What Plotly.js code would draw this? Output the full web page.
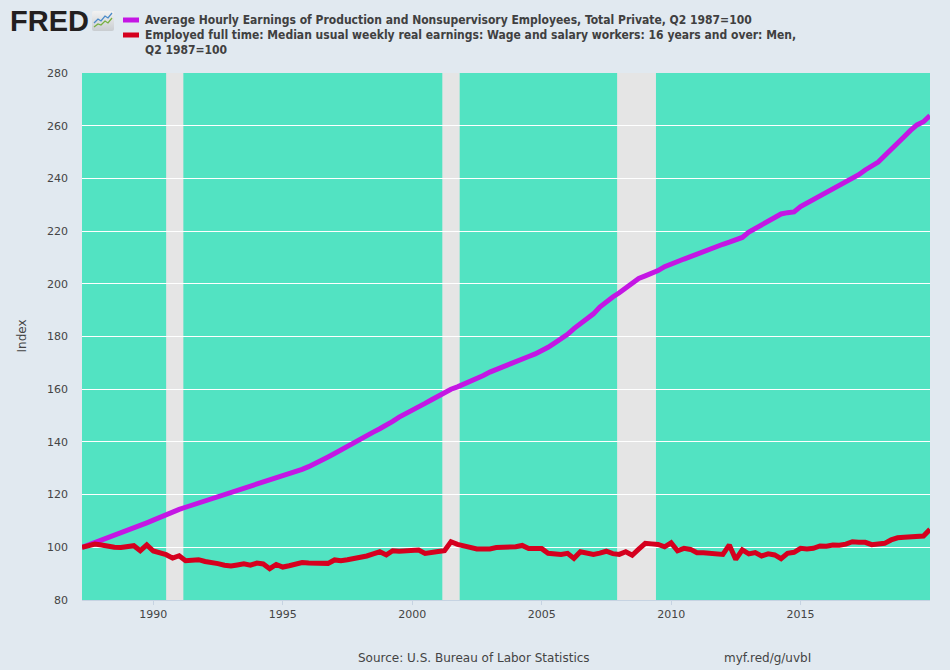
<!DOCTYPE html>
<html>
<head>
<meta charset="utf-8">
<script src="https://cdn.plot.ly/plotly-3.0.1.min.js"></script>
<style>
  html, body { margin: 0; padding: 0; background: #e1e9f0; }
  #chart { width: 950px; height: 670px; }
</style>
</head>
<body>
<div id="chart"></div>
<script>
// quarterly observations, Q2 1987 .. Q1 2020 (index, Q2 1987 = 100)
const firstYear = 1987;
const firstQuarter = 2;

const hourlyEarnings = [
  100.0, 100.9, 101.7,
  102.6, 103.5, 104.4, 105.2,
  106.3, 107.3, 108.3, 109.3,
  110.3, 111.4, 112.5, 113.6,
  114.4, 115.2, 116.0, 116.7,
  117.4, 118.1, 118.9, 119.6,
  120.6, 121.5, 122.2, 123.0,
  123.8, 124.6, 125.3, 126.1,
  127.0, 127.8, 128.8, 129.6,
  130.6, 131.7, 132.9, 134.3,
  135.6, 137.0, 138.5, 139.9,
  141.2, 142.5, 143.7, 145.0,
  146.3, 147.8, 149.4, 150.6,
  151.9, 153.3, 154.6, 156.0,
  157.4, 158.7, 160.0, 160.9,
  161.9, 163.0, 164.0, 165.2,
  166.5, 167.4, 168.6, 169.3,
  170.2, 171.3, 172.4, 173.4,
  174.6, 175.9, 177.5, 179.0,
  180.8, 183.0, 184.9, 186.8,
  188.6, 191.2, 193.3, 195.0,
  196.6, 198.4, 200.3, 202.0,
  203.0, 203.8, 205.0, 206.5,
  207.6, 208.5, 209.4, 210.3,
  211.3, 212.4, 213.4, 214.1,
  215.0, 215.8, 216.7, 217.6,
  219.6, 221.0, 222.5, 224.0,
  225.3, 226.5, 227.0, 227.3,
  229.3, 230.6, 232.0, 233.4,
  234.8, 236.0, 237.2, 238.4,
  239.8, 241.4, 243.2, 244.5,
  246.2, 248.6, 251.2, 253.6,
  255.8, 258.2, 260.3, 261.5,
  263.8
];

const weeklyEarningsMen = [
  100.0, 100.6, 101.2,
  100.9, 100.4, 100.0, 99.9,
  100.4, 100.6, 98.7, 100.9,
  98.6, 98.1, 97.2, 95.9,
  96.8, 94.9, 95.2, 95.3,
  94.6, 94.4, 93.8, 93.2,
  92.9, 93.3, 93.7, 93.2,
  94.0, 93.7, 91.9, 93.5,
  92.5, 93.0, 93.6, 94.2,
  94.0, 93.9, 93.9, 93.9,
  95.2, 94.9, 95.3, 95.7,
  96.4, 96.7, 97.5, 98.3,
  97.1, 98.7, 98.5, 98.6,
  99.1, 99.0, 97.7, 98.2,
  98.4, 98.7, 102.1, 101.1,
  100.5, 100.0, 99.4, 99.4,
  99.4, 99.9, 99.9, 100.1,
  100.2, 100.7, 99.5, 99.5,
  99.5, 97.7, 97.4, 97.3,
  97.7, 95.8, 98.3, 97.8,
  97.3, 97.8, 98.5, 97.6,
  97.3, 98.3, 97.0, 99.3,
  101.5, 101.3, 101.1, 100.2,
  101.7, 98.7, 99.6, 99.2,
  97.9, 97.9, 97.8, 97.7,
  97.3, 100.9, 95.4, 99.0,
  97.5, 98.0, 96.7, 97.5,
  97.1, 95.7, 97.7, 98.1,
  99.6, 99.4, 99.6, 100.5,
  100.4, 100.9, 100.8, 101.2,
  102.1, 101.9, 101.9, 101.0,
  101.3, 101.5, 102.8, 103.6,
  103.8, 104.0, 104.2, 104.3,
  106.8
];

const recessionStart = ['1990-07-01', '2001-03-01', '2007-12-01'];
const recessionEnd   = ['1991-03-01', '2001-11-01', '2009-06-01'];

const tickYears = ['1990', '1995', '2000', '2005', '2010', '2015'];

const seriesNames = [
  'Average Hourly Earnings of Production and Nonsupervisory Employees, Total Private, Q2 1987=100',
  'Employed full time: Median usual weekly real earnings: Wage and salary workers: 16 years and over: Men,',
  'Q2 1987=100'
];
const seriesColors = ['#c416e4', '#d5001e'];

// quarter start dates for the x axis
const dates = hourlyEarnings.map((_, i) => {
  const q = firstQuarter - 1 + i;
  const y = firstYear + Math.floor(q / 4);
  const m = (q % 4) * 3 + 1;
  return y + '-' + String(m).padStart(2, '0') + '-01';
});

// pixel -> paper helpers (plot area 82..930 x 73..600)
const L = 82, R = 930, T = 73, B = 600;
const px = x => (x - L) / (R - L);
const py = y => (B - y) / (B - T);

const textFont = 'DejaVu Sans, sans-serif';

const traces = [
  {
    x: dates, y: hourlyEarnings, type: 'scatter', mode: 'lines',
    line: { color: seriesColors[0], width: 5 }, hoverinfo: 'skip'
  },
  {
    x: dates, y: weeklyEarningsMen, type: 'scatter', mode: 'lines',
    line: { color: seriesColors[1], width: 5 }, hoverinfo: 'skip'
  }
];

const shapes = recessionStart.map((s, i) => ({
  type: 'rect', xref: 'x', yref: 'paper',
  x0: s, x1: recessionEnd[i], y0: 0, y1: 1,
  fillcolor: '#e5e5e5', line: { width: 0 }, layer: 'below'
}));

// legend swatches
shapes.push(
  { type: 'rect', xref: 'paper', yref: 'paper', x0: px(123), x1: px(139), y0: py(22.5), y1: py(17.5),
    fillcolor: seriesColors[0], line: { width: 0 } },
  { type: 'rect', xref: 'paper', yref: 'paper', x0: px(123), x1: px(139), y0: py(37.5), y1: py(32.5),
    fillcolor: seriesColors[1], line: { width: 0 } }
);

const legendFont = { family: 'DejaVu Sans Condensed, DejaVu Sans, sans-serif', size: 12, color: '#404040', weight: 'bold' };

const annotations = [
  { text: seriesNames[0], x: px(143), y: py(20) },
  { text: seriesNames[1], x: px(143), y: py(35) },
  { text: seriesNames[2], x: px(143), y: py(50) }
].map(a => Object.assign(a, {
  xref: 'paper', yref: 'paper', xanchor: 'left', yanchor: 'middle',
  showarrow: false, font: legendFont
}));

annotations.push(
  { text: 'FRED', x: px(8), y: py(21), xref: 'paper', yref: 'paper', xanchor: 'left', yanchor: 'middle',
    showarrow: false, font: { family: 'Liberation Sans, Arial, sans-serif', size: 29, color: '#231f20', weight: 'bold' } },
  { text: 'Index', x: px(21), y: 0.5, xref: 'paper', yref: 'paper', textangle: -90,
    xanchor: 'center', yanchor: 'middle',
    showarrow: false, font: { family: textFont, size: 12, color: '#444' } },
  { text: 'Source: U.S. Bureau of Labor Statistics', x: px(356), y: py(658), xref: 'paper', yref: 'paper',
    xanchor: 'left', yanchor: 'middle', showarrow: false, font: { family: textFont, size: 12, color: '#444' } },
  { text: 'myf.red/g/uvbI', x: px(722), y: py(658), xref: 'paper', yref: 'paper',
    xanchor: 'left', yanchor: 'middle', showarrow: false, font: { family: textFont, size: 12, color: '#444' } }
);

const iconSvg = "<svg xmlns='http://www.w3.org/2000/svg' width='22' height='20' viewBox='0 0 22 20'>" +
  "<defs><linearGradient id='g' x1='0' y1='0' x2='0' y2='1'><stop offset='0' stop-color='#f2f2f2'/><stop offset='1' stop-color='#c9cdd1'/></linearGradient></defs>" +
  "<rect width='22' height='20' rx='2' fill='url(#g)'/>" +
  "<polyline points='2,12 6,8 9,10 13,5 16,7 20,2' fill='none' stroke='#4a8ac9' stroke-width='1.3'/>" +
  "<polyline points='2,16 6,13 9,14 13,10 16,12 20,7' fill='none' stroke='#76b041' stroke-width='1.3'/></svg>";

const layout = {
  width: 950, height: 670,
  margin: { l: L, r: 950 - R, t: T, b: 670 - B },
  paper_bgcolor: '#e1e9f0',
  plot_bgcolor: '#52e3c2',
  showlegend: false,
  xaxis: {
    type: 'date',
    range: ['1987-04-01', '2020-01-01'],
    tickmode: 'array',
    tickvals: tickYears.map(y => y + '-01-01'),
    ticktext: tickYears,
    showgrid: false, zeroline: false,
    showline: true, linecolor: '#c6d3e2', linewidth: 1,
    ticks: 'outside', ticklen: 4, tickcolor: '#c6d3e2',
    tickfont: { family: textFont, size: 11, color: '#444' }
  },
  yaxis: {
    range: [80, 280], dtick: 20,
    showgrid: true, gridcolor: '#ffffff', gridwidth: 1,
    zeroline: false, showline: false, ticks: '',
    ticklabelstandoff: 13,
    tickfont: { family: textFont, size: 11, color: '#444' }
  },
  shapes: shapes,
  annotations: annotations,
  images: [{
    source: 'data:image/svg+xml;charset=utf-8,' + encodeURIComponent(iconSvg),
    xref: 'paper', yref: 'paper', x: px(92), y: py(11),
    sizex: 22 / (R - L), sizey: 20 / (B - T), sizing: 'stretch',
    xanchor: 'left', yanchor: 'top', layer: 'above'
  }]
};

Plotly.newPlot('chart', traces, layout, { displayModeBar: false, staticPlot: true });
</script>
</body>
</html>
